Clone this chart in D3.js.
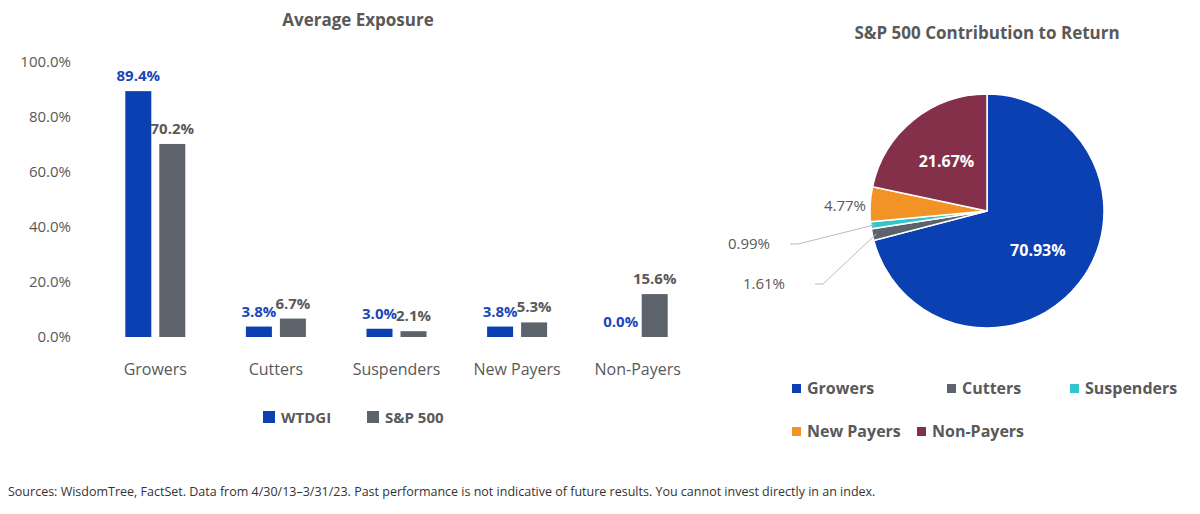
<!DOCTYPE html>
<html><head><meta charset="utf-8">
<script src="https://cdn.jsdelivr.net/npm/d3@7"></script>
<style>
body{margin:0;background:#fff;font-family:"Open Sans",sans-serif;}
</style></head>
<body><svg id="chart" width="1200" height="514"></svg>
<script>
// bar chart data
const categories = ['Growers','Cutters','Suspenders','New Payers','Non-Payers']
const wtdgi = [89.4, 3.8, 3.0, 3.8, 0.0]
const sp500 = [70.2, 6.7, 2.1, 5.3, 15.6]
const yTicks = [0, 20, 40, 60, 80, 100]
// pie data
const pieLabels = ['Growers','Cutters','Suspenders','New Payers','Non-Payers']
const pieValues = [70.93, 1.61, 0.99, 4.77, 21.67]

const blue = '#0b40b3', gray = '#5c636b'
const pieColors = ['#0b40b3','#5c636b','#33c4cc','#f39325','#85304b']
const textGray = '#595959'

const svg = d3.select('#chart')

// ---- bar chart ----
const x = d3.scaleBand().domain(categories).range([95, 698]).paddingInner(0).paddingOuter(0)
const y = d3.scaleLinear().domain([0,100]).range([337, 62])
const bw = 26, gap = 8

svg.append('text').attr('x',358).attr('y',26).attr('text-anchor','middle')
	.attr('font-size',17).attr('font-weight','bold').attr('fill',textGray).text('Average Exposure')

const yAxis = svg.append('g').attr('transform','translate(74,0)')
	.call(d3.axisLeft(y).tickValues(yTicks).tickFormat(d => d.toFixed(1)+'%').tickSize(0))
yAxis.select('.domain').remove()
yAxis.selectAll('text').attr('font-size',15).attr('fill',textGray).attr('font-family','"Open Sans",sans-serif')

const g = svg.selectAll(null).data(categories).enter().append('g')
	.attr('transform', d => `translate(${x(d)+x.bandwidth()/2},0)`)

g.append('rect').attr('x',-gap/2-bw).attr('width',bw)
	.attr('y',(d,i)=>y(wtdgi[i])).attr('height',(d,i)=>y(0)-y(wtdgi[i])).attr('fill',blue)
g.append('rect').attr('x',gap/2).attr('width',bw)
	.attr('y',(d,i)=>y(sp500[i])).attr('height',(d,i)=>y(0)-y(sp500[i])).attr('fill',gray)

g.append('text').attr('x',-gap/2-bw/2).attr('y',(d,i)=>y(wtdgi[i])-10).attr('text-anchor','middle')
	.attr('font-size',15).attr('font-weight','bold').attr('fill','#1a47b8').text((d,i)=>wtdgi[i].toFixed(1)+'%')
g.append('text').attr('x',gap/2+bw/2).attr('y',(d,i)=>y(sp500[i])-10).attr('text-anchor','middle')
	.attr('font-size',15).attr('font-weight','bold').attr('fill',textGray).text((d,i)=>sp500[i].toFixed(1)+'%')

g.append('text').attr('y',375).attr('text-anchor','middle').attr('font-size',16)
	.attr('fill',textGray).text(d=>d)

// bar legend
const bl = [['WTDGI',blue,263],['S&P 500',gray,367]]
bl.forEach(([t,c,lx]) => {
	svg.append('rect').attr('x',lx).attr('y',411).attr('width',12).attr('height',12).attr('fill',c)
	svg.append('text').attr('x',lx+18).attr('y',423).attr('font-size',15).attr('font-weight','bold')
		.attr('fill',textGray).text(t)
})

// ---- pie ----
const cx = 987, cy = 211, r = 117
svg.append('text').attr('x',cx).attr('y',39).attr('text-anchor','middle')
	.attr('font-size',17).attr('font-weight','bold').attr('fill',textGray).text('S&P 500 Contribution to Return')

const arcs = d3.pie().sort(null)(pieValues)
const arc = d3.arc().innerRadius(0).outerRadius(r)
const pg = svg.append('g').attr('transform',`translate(${cx},${cy})`)
pg.selectAll('path').data(arcs).enter().append('path')
	.attr('d',arc).attr('fill',(d,i)=>pieColors[i]).attr('stroke','#fff').attr('stroke-width',1.5)

//inside labels
const inner = d3.arc().innerRadius(r*0.5).outerRadius(r*0.6)
;[0,4].forEach(i => {
	const [px,py] = inner.centroid(arcs[i])
	pg.append('text').attr('x',px).attr('y',py+6).attr('text-anchor','middle')
		.attr('font-size',16).attr('font-weight','bold').attr('fill','#fff').text(pieValues[i].toFixed(2)+'%')
})
// outside labels
pg.append('text').attr('x',-121).attr('y',0).attr('text-anchor','end').attr('font-size',15)
	.attr('fill',textGray).text(pieValues[3].toFixed(2)+'%')
const outs = [[2,-217,38,-197],[1,-202,78,-172]]
outs.forEach(([i,lx,ly,ex]) => {
	const [px,py] = d3.arc().innerRadius(r-4).outerRadius(r-4).centroid(arcs[i])
	pg.append('polyline').attr('points',`${ex},${ly-5} ${ex+8},${ly-5} ${px},${py}`)
		.attr('fill','none').attr('stroke','#bbb').attr('stroke-width',1)
	pg.append('text').attr('x',lx).attr('y',ly).attr('text-anchor','end').attr('font-size',15)
		.attr('fill',textGray).text(pieValues[i].toFixed(2)+'%')
})

// pie legend
const pl = [[792,389],[947,389],[1070,389],[792,432],[917,432]]
pieLabels.forEach((t,i) => {
	svg.append('rect').attr('x',pl[i][0]).attr('y',pl[i][1]-5).attr('width',9).attr('height',9).attr('fill',pieColors[i])
	svg.append('text').attr('x',pl[i][0]+15).attr('y',pl[i][1]+5).attr('font-size',16).attr('font-weight','bold')
		.attr('fill',textGray).text(t)
})

svg.append('text').attr('x',8).attr('y',496).attr('font-size',12.5).attr('fill','#333')
	.text('Sources: WisdomTree, FactSet. Data from 4/30/13–3/31/23. Past performance is not indicative of future results. You cannot invest directly in an index.')
</script></body></html>
